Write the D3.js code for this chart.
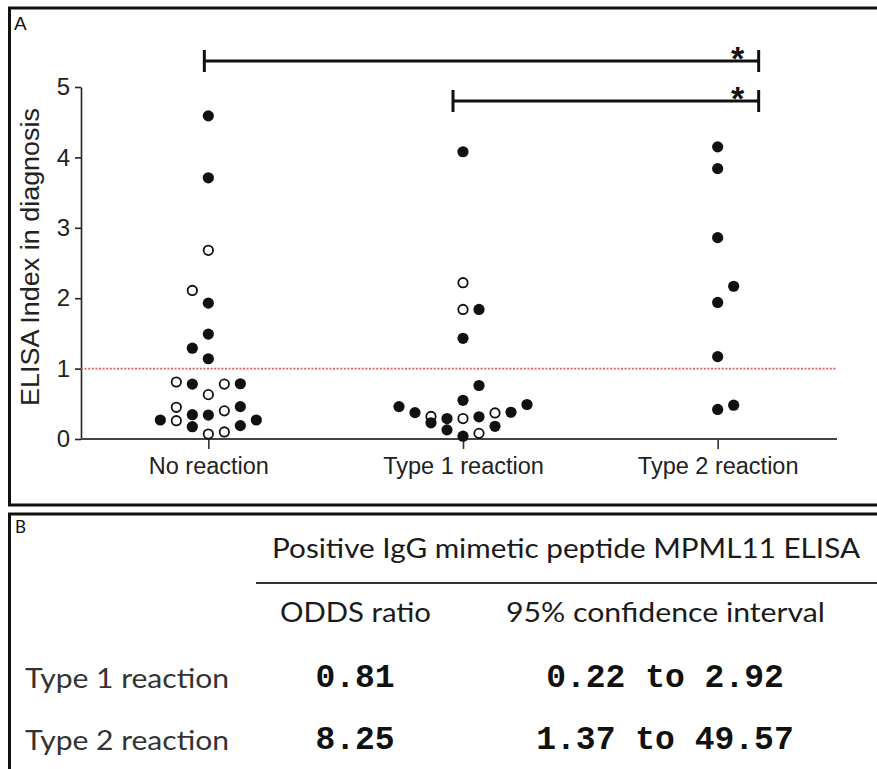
<!DOCTYPE html>
<html>
<head>
<meta charset="utf-8">
<script src="https://cdn.jsdelivr.net/npm/d3@7"></script>
<style>
  body { margin: 0; background: #fff; }
  svg { display: block; }
</style>
</head>
<body>
<svg id="fig" width="877" height="769"></svg>
<script>
// ---- data -------------------------------------------------------------
const categories = ["No reaction", "Type 1 reaction", "Type 2 reaction"];
const yTicks = [0, 1, 2, 3, 4, 5];
const cutoff = 1;

// ELISA index in diagnosis, solid and hollow symbols per group
const noReactionSolid  = [4.59, 3.71, 1.93, 1.49, 1.29, 1.14, 0.78, 0.785, 0.46, 0.345, 0.34, 0.27, 0.27, 0.19, 0.175];
const noReactionHollow = [2.68, 2.11, 0.81, 0.78, 0.63, 0.45, 0.40, 0.26, 0.10, 0.07];
const type1Solid  = [4.08, 1.84, 1.43, 0.76, 0.55, 0.49, 0.46, 0.38, 0.375, 0.315, 0.29, 0.23, 0.18, 0.13, 0.04];
const type1Hollow = [2.22, 1.84, 0.37, 0.32, 0.29, 0.08];
const type2Solid  = [4.15, 3.84, 2.86, 2.17, 1.94, 1.17, 0.48, 0.42];
const type2Hollow = [];

// significance brackets: [from, to]
const comparisons = [["No reaction", "Type 2 reaction"], ["Type 1 reaction", "Type 2 reaction"]];

// panel B table
const tableTitle = "Positive IgG mimetic peptide MPML11 ELISA";
const tableHeaders = ["ODDS ratio", "95% confidence interval"];
const tableRows = ["Type 1 reaction", "Type 2 reaction"];
const oddsRatios = [0.81, 8.25];
const ciLower = [0.22, 1.37];
const ciUpper = [2.92, 49.57];

// ---- layout -----------------------------------------------------------
const svg = d3.select("#fig");
const AX = 81, AXEND = 837, Y0 = 439, Y5 = 87;
const sans = "'Liberation Sans', Arial, sans-serif";
const light = "Lato, 'Open Sans', sans-serif";
const mono = "'Liberation Mono', 'Courier New', monospace";

const x = d3.scalePoint().domain(categories).range([AX, 845]).padding(0.5);
const y = d3.scaleLinear().domain([0, 5]).range([Y0, Y5]);

// panel frames
svg.append("rect").attr("x", 9.5).attr("y", 8).attr("width", 900).attr("height", 497)
  .attr("fill", "none").attr("stroke", "#111").attr("stroke-width", 3);
svg.append("rect").attr("x", 9.5).attr("y", 514).attr("width", 900).attr("height", 300)
  .attr("fill", "none").attr("stroke", "#111").attr("stroke-width", 3);

svg.append("text").attr("x", 14).attr("y", 30).attr("font-family", sans)
  .attr("font-size", 19).attr("fill", "#111").text("A");
svg.append("text").attr("x", 15).attr("y", 533).attr("font-family", light)
  .attr("font-size", 17).attr("fill", "#111").text("B");

// ---- panel A: axes ----------------------------------------------------
const gy = svg.append("g").attr("transform", `translate(${AX},0)`)
  .call(d3.axisLeft(y).tickValues(yTicks).tickSize(6).tickSizeOuter(0).tickPadding(5).tickFormat(d3.format("d")));
gy.select(".domain").attr("stroke", "#222").attr("stroke-width", 1.6);
gy.selectAll(".tick line").attr("stroke", "#222").attr("stroke-width", 1.6);
gy.selectAll(".tick text").attr("font-family", sans).attr("font-size", 24).attr("fill", "#222");

const gx = svg.append("g").attr("transform", `translate(0,${Y0})`)
  .call(d3.axisBottom(x).tickSize(10).tickPadding(8));
gx.select(".domain").remove();
gx.selectAll(".tick line").attr("stroke", "#333").attr("stroke-width", 1.6);
gx.selectAll(".tick text").attr("font-family", sans).attr("font-size", 23.5).attr("fill", "#222");
svg.append("line").attr("x1", AX).attr("x2", AXEND).attr("y1", Y0).attr("y2", Y0)
  .attr("stroke", "#444").attr("stroke-width", 2.2);

svg.append("text")
  .attr("transform", `translate(39,${(107 + 407) / 2}) rotate(-90)`)
  .attr("text-anchor", "middle").attr("font-family", sans).attr("font-size", 25)
  .attr("textLength", 298).attr("lengthAdjust", "spacingAndGlyphs")
  .attr("fill", "#222").text("ELISA Index in diagnosis");

// cut-off line
svg.append("line").attr("x1", AX).attr("x2", AXEND).attr("y1", y(cutoff)).attr("y2", y(cutoff))
  .attr("stroke", "#e05a5a").attr("stroke-width", 1.6).attr("stroke-dasharray", "2,1.6");

// ---- panel A: points --------------------------------------------------
// Points are grouped into rows of similar height; within a row they are
// spread out from the centre, alternating the starting side per row.
const rowHeight = 17, slotWidth = 16;
function swarm(cat, solid, hollow) {
  const pts = hollow.map(v => ({ v, hollow: true }))
    .concat(solid.map(v => ({ v, hollow: false })))
    .sort((a, b) => a.v - b.v);
  let rowStart = null, side = -1, k = 0;
  pts.forEach(p => {
    const py = y(p.v);
    if (rowStart === null || rowStart - py >= rowHeight) { rowStart = py; side = -side; k = 0; }
    const slot = k === 0 ? 0 : (k % 2 ? side * Math.ceil(k / 2) : -side * (k / 2));
    p.cx = x(cat) + slot * slotWidth;
    p.cy = py;
    k++;
  });
  return pts;
}
const allPts = [
  ...swarm("No reaction", noReactionSolid, noReactionHollow),
  ...swarm("Type 1 reaction", type1Solid, type1Hollow),
  ...swarm("Type 2 reaction", type2Solid, type2Hollow)
];
svg.append("g").selectAll("circle").data(allPts.filter(d => d.hollow)).join("circle")
  .attr("cx", d => d.cx).attr("cy", d => d.cy).attr("r", 4.7)
  .attr("fill", "#fff").attr("stroke", "#111").attr("stroke-width", 1.8);
svg.append("g").selectAll("circle").data(allPts.filter(d => !d.hollow)).join("circle")
  .attr("cx", d => d.cx).attr("cy", d => d.cy).attr("r", 5.6).attr("fill", "#111");

// ---- significance brackets --------------------------------------------
const bracketY = [61, 101];
const startShift = { "No reaction": -4, "Type 1 reaction": -10 };
comparisons.forEach(([a, b], i) => {
  const x1 = x(a) + startShift[a], x2 = x(b) + 41, by = bracketY[i];
  const g = svg.append("g").attr("stroke", "#111").attr("stroke-width", 3);
  g.append("line").attr("x1", x1).attr("x2", x2).attr("y1", by).attr("y2", by);
  g.append("line").attr("x1", x1).attr("x2", x1).attr("y1", by - 11).attr("y2", by + 11);
  g.append("line").attr("x1", x2).attr("x2", x2).attr("y1", by - 11).attr("y2", by + 11);
  svg.append("text").attr("x", x2 - 21).attr("y", by + 9).attr("text-anchor", "middle")
    .attr("font-family", sans).attr("font-size", 34).attr("font-weight", "bold")
    .attr("fill", "#111").text("*");
});

// ---- panel B: table ---------------------------------------------------
function label(txt, xPos, yPos, len, opts = {}) {
  const t = svg.append("text").attr("x", xPos).attr("y", yPos)
    .attr("font-family", opts.family || light).attr("font-size", opts.size || 26)
    .attr("font-weight", opts.weight || "normal").attr("fill", opts.fill || "#1a1a1a")
    .attr("text-anchor", opts.anchor || "start").text(txt);
  if (len) t.attr("textLength", len).attr("lengthAdjust", "spacingAndGlyphs");
  return t;
}
label(tableTitle, 272, 558, 588);
svg.append("line").attr("x1", 256).attr("x2", 877).attr("y1", 583).attr("y2", 583)
  .attr("stroke", "#333").attr("stroke-width", 2);
const colCentre = [355, 665];
label(tableHeaders[0], 280, 622, 151);
label(tableHeaders[1], 506, 622, 319);
const rowBase = [688, 750];
tableRows.forEach((r, i) => {
  label(r, 25, rowBase[i], 204, { fill: "#333" });
  label(oddsRatios[i].toFixed(2), colCentre[0], rowBase[i] - 1, null,
    { family: mono, size: 33, weight: "bold", anchor: "middle", fill: "#111" });
  label(`${ciLower[i].toFixed(2)} to ${ciUpper[i].toFixed(2)}`, colCentre[1], rowBase[i] - 1, null,
    { family: mono, size: 33, weight: "bold", anchor: "middle", fill: "#111" });
});
</script>
</body>
</html>
